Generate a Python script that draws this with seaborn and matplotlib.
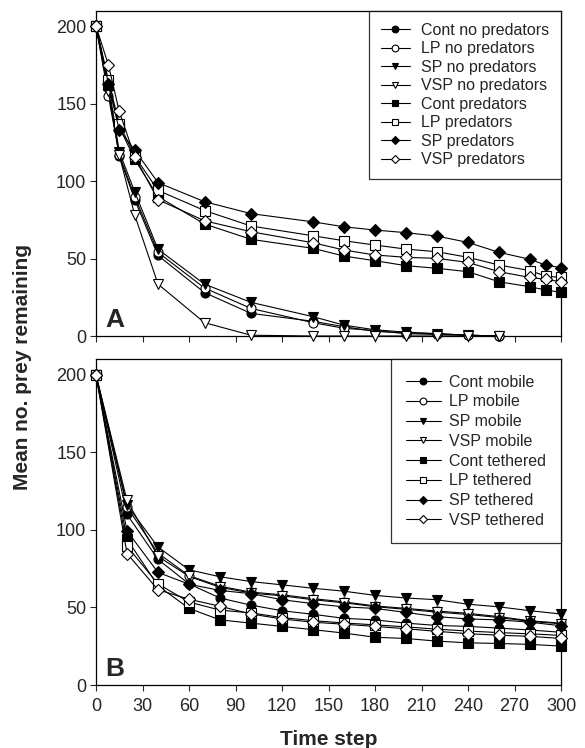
import numpy as np
import pandas as pd
import matplotlib
matplotlib.use("Agg")
import matplotlib.pyplot as plt
import seaborn as sns

sns.set_style("ticks")
plt.rcParams['font.family'] = ['Liberation Sans', 'DejaVu Sans']

# panel A data
t_nopred = [0, 8, 15, 25, 40, 70, 100, 140, 160, 180, 200, 220, 240, 260]
cont_nopred = [200, 160, 116, 88, 52, 28, 14.6, 9.5, 6, 3, 2, 1.5, 0.5, 0]
lp_nopred = [200, 155, 117, 90, 54, 31, 17.8, 8.6, 5, 3.5, 1.5, 1, 0.5, 0]
sp_nopred = [200, 163, 119, 93, 56, 33.5, 21.7, 12.5, 7, 4, 2.5, 1.5, 0.5, 0]
vsp_nopred = [200, 158, 116.8, 78, 33.5, 8.6, 0.5, 0, 0, 0, 0, 0, 0, 0]

t_pred = [0, 8, 15, 25, 40, 70, 100, 140, 160, 180, 200, 220, 240, 260, 280, 290, 300]
cont_pred = [200, 162, 135, 114, 90, 72.3, 62.4, 56.6, 51.6, 48.6, 45.4, 43.7, 41.5, 35, 31.8, 29.7, 28.2]
lp_pred = [200, 165, 137, 116, 94, 81, 71, 64.7, 61.5, 58.7, 56.1, 54.4, 50.8, 45.8, 42.2, 38.7, 37.8]
sp_pred = [200, 163, 133, 120, 99, 86.7, 79, 73.7, 70.5, 68.4, 66.7, 64.5, 60.4, 54, 49.5, 45.8, 44.1]
vsp_pred = [200, 175, 145, 115.7, 88, 74.4, 67.3, 60.2, 55.5, 52.3, 50.8, 50.1, 47.5, 41.5, 37.8, 36.6, 35]

# panel B data
t_b = [0, 20, 40, 60, 80, 100, 120, 140, 160, 180, 200, 220, 240, 260, 280, 300]
cont_mob = [200, 110, 81, 65.2, 56.1, 51.5, 47.9, 45.6, 43, 42, 39.9, 38.4, 37.8, 36.7, 35.5, 34]
lp_mob = [200, 114.8, 85, 70.5, 63.7, 59.9, 58.2, 55.7, 53.6, 51, 49.4, 47.7, 46.2, 44.1, 41.4, 39.9]
sp_mob = [200, 116, 89, 74.3, 69.8, 66.7, 64.6, 62.4, 60.5, 57.8, 56.1, 55, 52.1, 50.4, 47.9, 45.8]
vsp_mob = [200, 119, 83, 70, 63, 59.3, 57.5, 55, 53, 50.5, 48.8, 47, 45.5, 43.5, 41, 39.5]
cont_teth = [200, 94.1, 64, 49.4, 42, 39.9, 37.8, 35.7, 33.5, 30.8, 30, 28.3, 27.2, 26.8, 26.2, 25.1]
lp_teth = [200, 89.5, 65.2, 53.5, 48.3, 46.5, 43.5, 41.5, 40, 38.8, 37.5, 36, 34.8, 33.8, 33, 32]
sp_teth = [200, 99.4, 72.6, 65, 61, 58.9, 55, 52.5, 50.4, 49.4, 46.8, 44.1, 42.6, 42, 40.5, 38.2]
vsp_teth = [200, 84.8, 61.4, 55.3, 50.8, 45.8, 42.6, 40.5, 39.2, 37.8, 36.3, 34.6, 33.1, 32.1, 31.4, 30]

# marker styles: (marker, filled)
styles = [('o', True), ('o', False), ('v', True), ('v', False),
          ('s', True), ('s', False), ('D', True), ('D', False)]

series_a = [
    ('Cont no predators', t_nopred, cont_nopred),
    ('LP no predators', t_nopred, lp_nopred),
    ('SP no predators', t_nopred, sp_nopred),
    ('VSP no predators', t_nopred, vsp_nopred),
    ('Cont predators', t_pred, cont_pred),
    ('LP predators', t_pred, lp_pred),
    ('SP predators', t_pred, sp_pred),
    ('VSP predators', t_pred, vsp_pred),
]
series_b = [
    ('Cont mobile', t_b, cont_mob),
    ('LP mobile', t_b, lp_mob),
    ('SP mobile', t_b, sp_mob),
    ('VSP mobile', t_b, vsp_mob),
    ('Cont tethered', t_b, cont_teth),
    ('LP tethered', t_b, lp_teth),
    ('SP tethered', t_b, sp_teth),
    ('VSP tethered', t_b, vsp_teth),
]

fig = plt.figure(figsize=(5.85, 7.48), dpi=100)
axA = fig.add_axes([0.1641, 0.5508, 0.7949, 0.4349])
axB = fig.add_axes([0.1641, 0.0842, 0.7949, 0.4354])


def draw(ax, series, letter, show_xlabels, leg_kw):
    for (name, t, v), (mk, filled) in zip(series, styles):
        msize = 6.0 if mk == 'D' else 6.5
        sns.lineplot(x=t, y=v, ax=ax, color='black', linewidth=0.8,
                     marker=mk, markersize=msize, markeredgecolor='black',
                     markeredgewidth=0.8,
                     markerfacecolor='black' if filled else 'white',
                     label=name, clip_on=False, zorder=3)
    ax.set_xlim(0, 300)
    ax.set_ylim(0, 210)
    ax.set_xticks(np.arange(0, 301, 30))
    ax.set_yticks([0, 50, 100, 150, 200])
    ax.tick_params(direction='out', length=4, width=0.8, labelsize=13,
                   top=False, right=False, pad=3)
    ax.tick_params(axis='x', pad=5)
    if not show_xlabels:
        ax.set_xticklabels([])
    for sp in ax.spines.values():
        sp.set_linewidth(0.9)
        sp.set_color('black')
    ax.set_xlabel('')
    ax.set_ylabel('')
    ax.text(6, 6, letter, fontsize=19, fontweight='bold', ha='left',
            va='baseline')
    leg = ax.legend(loc='upper right', bbox_to_anchor=(1.0, 1.0),
                    frameon=True, fancybox=False, fontsize=11.5,
                    borderaxespad=0, markerscale=0.75, **leg_kw)
    leg.get_frame().set_edgecolor('black')
    leg.get_frame().set_linewidth(0.9)


draw(axA, series_a, 'A', False,
     dict(handlelength=1.8, handletextpad=0.7, labelspacing=0.22,
          borderpad=0.75))
draw(axB, series_b, 'B', True,
     dict(handlelength=2.2, handletextpad=0.5, labelspacing=0.3,
          borderpad=0.95))

axB.set_xlabel('Time step', fontsize=15, fontweight='bold', labelpad=11)
fig.text(0.038, 0.51, 'Mean no. prey remaining', rotation=90, fontsize=15,
         fontweight='bold', ha='center', va='center')

fig.savefig('out.png', dpi=100)
